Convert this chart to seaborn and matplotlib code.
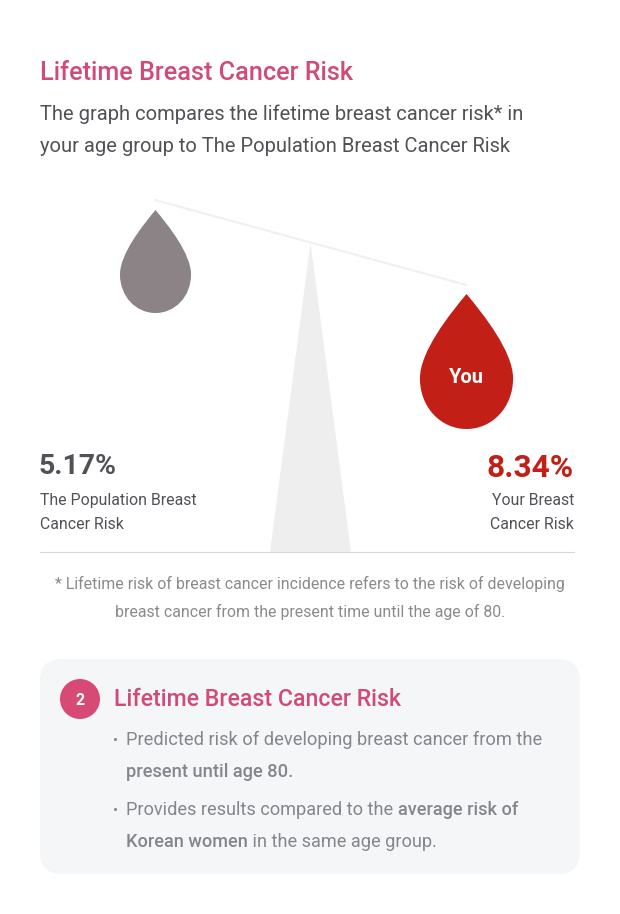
import matplotlib
matplotlib.use("Agg")
import matplotlib.pyplot as plt
from matplotlib.path import Path
from matplotlib.patches import FancyBboxPatch, Polygon, Circle
import pandas as pd
import seaborn as sns

# ---- data
labels = ["The Population Breast Cancer Risk", "Your Breast Cancer Risk"]
risks = [5.17, 8.34]

# ---- layout (pixels)
drop_x = [155.5, 466.5]
drop_mid_y = [261.5, 361.5]
drop_heights = [103, 135]
drop_colors = ["#8B8385", "#C21F17"]

sns.set_theme(style="white")
FONT = ["Roboto", "Noto Sans", "DejaVu Sans"]
plt.rcParams["font.family"] = FONT

PINK = "#D14B77"
fig = plt.figure(figsize=(6.2, 9.14), dpi=100, facecolor="white")
ax = fig.add_axes([0, 0, 1, 1])
ax.set_xlim(0, 620)
ax.set_ylim(914, 0)
ax.axis("off")

# teardrop marker
w = 0.69
verts = [(0, 1), (0.25, 0.7), (w, 0.15), (w, -0.25), (w, -0.68), (0.38, -1), (0, -1),
         (-0.38, -1), (-w, -0.68), (-w, -0.25), (-w, 0.15), (-0.25, 0.7), (0, 1), (0, 1)]
codes = [Path.MOVETO] + [Path.CURVE4] * 12 + [Path.CLOSEPOLY]
drop = Path(verts, codes)

df = pd.DataFrame({"label": labels, "risk": risks, "x": drop_x, "y": drop_mid_y})
size_map = {r: (h * 0.72) ** 2 for r, h in zip(risks, drop_heights)}

# scale
ax.add_patch(Polygon([(310.5, 243), (270, 552), (351, 552)], closed=True, fc="#EEEEEE", ec="none", zorder=1))
sns.lineplot(x=[155, 466.5], y=[200, 285], color="#F0F0F0", linewidth=1.5, ax=ax, legend=False, zorder=1)
ax.plot([40, 574], [552, 552], color="#D6D6D6", lw=0.8, zorder=2)
sns.scatterplot(data=df, x="x", y="y", hue="label", palette=dict(zip(labels, drop_colors)),
                size="risk", sizes=size_map, marker=drop, linewidth=0, legend=False, ax=ax, zorder=3)
ax.set_xlim(0, 620)
ax.set_ylim(914, 0)
ax.set_xlabel("")
ax.set_ylabel("")

# card
ax.add_patch(FancyBboxPatch((40 + 22, 659 + 22), 540 - 44, 215 - 44, boxstyle="round,pad=22,rounding_size=22",
                            fc="#F5F6F8", ec="none", zorder=0))
ax.add_patch(Circle((80, 699), 20, fc="#D64A75", ec="none", zorder=2))


def txt(x, y, s, size, color, weight="normal", ha="left"):
    return ax.text(x, y, s, fontsize=size, color=color, fontweight=weight, ha=ha, va="baseline", zorder=5)


def runs(x, y, parts, size, color):
    fig.canvas.draw()
    r = fig.canvas.get_renderer()
    for s, wt in parts:
        txt(x, y, s, size, color, wt)
        probe = txt(x, y, s.replace(" ", "\u00a0") + "|", size, color, wt)
        pipe = txt(x, y, "|", size, color, wt)
        adv = probe.get_window_extent(r).width - pipe.get_window_extent(r).width
        probe.remove()
        pipe.remove()
        x += adv


txt(40, 80, "Lifetime Breast Cancer Risk", 18.2, PINK, "medium")
DARK = "#505257"
txt(40, 120, "The graph compares the lifetime breast cancer risk* in", 14.52, DARK)
txt(40, 152, "your age group to The Population Breast Cancer Risk", 14.52, DARK)

txt(466.5, 383, "You", 14.4, "white", "bold", ha="center")

txt(39, 474, f"{risks[0]:.2f}%", 20.4, DARK, "bold")
txt(40, 505, "The Population Breast", 11.45, DARK)
txt(40, 529, "Cancer Risk", 11.45, DARK)
txt(574, 477, f"{risks[1]:.2f}%", 22.8, "#C21F17", "bold", ha="right")
txt(574, 505, "Your Breast", 11.45, DARK, ha="right")
txt(574, 529, "Cancer Risk", 11.45, DARK, ha="right")

GREY = "#8A8A8A"
txt(310, 589, "* Lifetime risk of breast cancer incidence refers to the risk of developing", 11.4, GREY, ha="center")
txt(310, 617, "breast cancer from the present time until the age of 80.", 11.4, GREY, ha="center")

txt(80, 705, "2", 11.5, "white", "bold", ha="center")
txt(114, 706, "Lifetime Breast Cancer Risk", 16.65, PINK, "medium")
BODY = "#83868C"
txt(113, 745, "•", 11, BODY)
txt(126, 745, "Predicted risk of developing breast cancer from the", 13.15, BODY)
txt(126, 777, "present until age 80.", 13.15, BODY, "medium")
txt(113, 815, "•", 11, BODY)
runs(126, 815, [("Provides results compared to the ", "normal"), ("average risk of", "medium")], 13.05, BODY)
runs(126, 847, [("Korean women", "medium"), (" in the same age group.", "normal")], 13.05, BODY)

fig.savefig("out.png", dpi=100, facecolor="white")
